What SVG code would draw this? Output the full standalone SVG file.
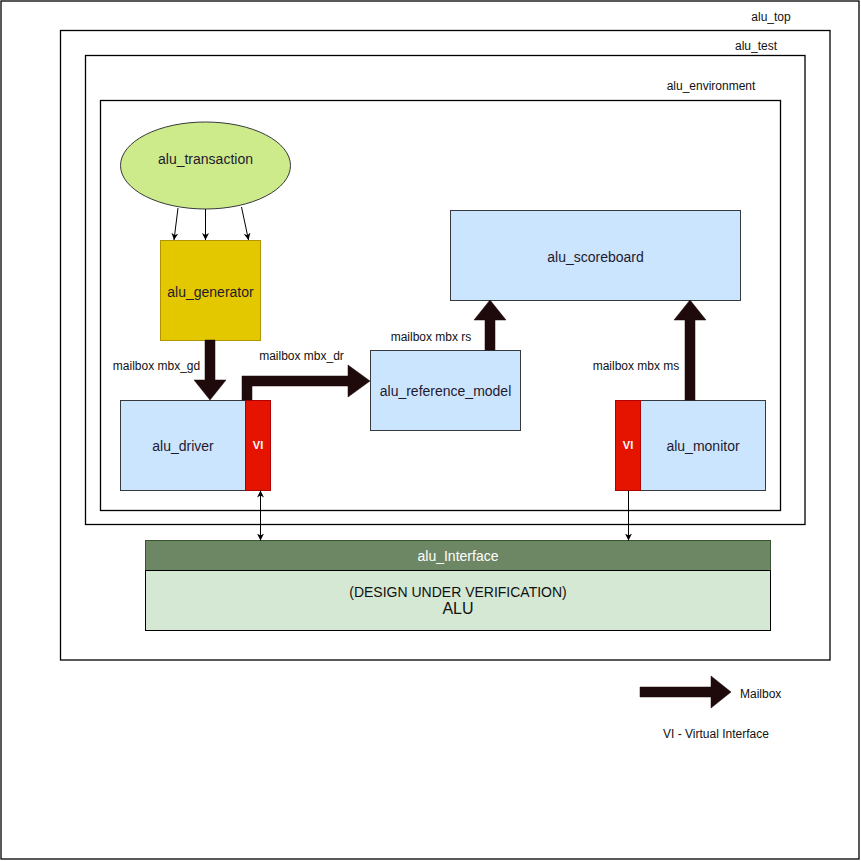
<svg xmlns="http://www.w3.org/2000/svg" width="861" height="861" viewBox="0 0 861 861">
<style>
text{font-family:"Liberation Sans",Arial,sans-serif;dominant-baseline:central;text-anchor:middle}
.box{fill:none;stroke:#000;stroke-width:1.3}
.lbl{font-size:12px;fill:#111}
.node{font-size:14px;fill:#1f1a2e}
.blue{fill:#cce5ff;stroke:#36393d;stroke-width:1}
.red{fill:#e51400;stroke:#b20000;stroke-width:1}
.vi{font-size:11px;font-weight:bold;fill:#fff}
.mb{fill:#1e0a0a;stroke:#1e0a0a;stroke-width:0.5}
.thin{fill:none;stroke:#000;stroke-width:1}
</style>
<defs>
<marker id="ah" viewBox="0 0 10 10" refX="10" refY="5" markerWidth="7" markerHeight="7" markerUnits="userSpaceOnUse" orient="auto-start-reverse">
<path d="M0,0 L10,5 L0,10 L3,5 Z" fill="#000"/>
</marker>
</defs>
<rect width="861" height="861" fill="#fff"/>
<g id="alu_top">
<rect class="box" x="1" y="1" width="858" height="858"/>
<text class="lbl" x="771" y="17">alu_top</text>
</g>
<g id="alu_test">
<rect class="box" x="60.5" y="30.5" width="769.5" height="629.5"/>
<text class="lbl" x="756" y="46">alu_test</text>
</g>
<g id="alu_environment">
<rect class="box" x="85.5" y="55.5" width="719.5" height="469"/>
<text class="lbl" x="711" y="86">alu_environment</text>
</g>
<g id="inner_env">
<rect class="box" x="100.5" y="100.5" width="680" height="410"/>
</g>
<g id="alu_transaction">
<ellipse cx="205.5" cy="165.5" rx="85" ry="43.5" fill="#cdeb8b" stroke="#36393d" stroke-width="1"/>
<text class="node" x="205.5" y="159">alu_transaction</text>
</g>
<g id="alu_generator">
<rect x="160.5" y="240.5" width="100" height="100" fill="#e3c800" stroke="#b09500" stroke-width="1"/>
<text class="node" x="210.5" y="292">alu_generator</text>
</g>
<g id="alu_driver">
<rect class="blue" x="120.5" y="400.5" width="125" height="90"/>
<text class="node" x="183" y="446">alu_driver</text>
<rect class="red" x="245.5" y="400.5" width="25" height="90"/>
<text class="vi" x="258" y="445">VI</text>
</g>
<g id="alu_reference_model">
<rect class="blue" x="370.5" y="350.5" width="150" height="80"/>
<text class="node" x="445.5" y="391">alu_reference_model</text>
</g>
<g id="alu_scoreboard">
<rect class="blue" x="450.5" y="210.5" width="290" height="90"/>
<text class="node" x="595.5" y="257">alu_scoreboard</text>
</g>
<g id="alu_monitor">
<rect class="blue" x="640.5" y="400.5" width="125" height="90"/>
<text class="node" x="703" y="446">alu_monitor</text>
<rect class="red" x="615.5" y="400.5" width="25" height="90"/>
<text class="vi" x="628" y="445">VI</text>
</g>
<g id="alu_interface">
<rect x="145.5" y="540.5" width="625" height="30" fill="#6d8764" stroke="#3a5431" stroke-width="1"/>
<text x="458" y="555.5" font-size="14" fill="#fff">alu_Interface</text>
<rect x="145.5" y="570.5" width="625" height="60" fill="#d5e8d4" stroke="#000" stroke-width="1"/>
<text x="458" y="592" font-size="14" fill="#111">(DESIGN UNDER VERIFICATION)</text>
<text x="458" y="608" font-size="16" fill="#111">ALU</text>
</g>
<g id="connectors">
<line class="thin" x1="178" y1="208" x2="174" y2="240" marker-end="url(#ah)"/>
<line class="thin" x1="205.5" y1="209" x2="205.5" y2="240" marker-end="url(#ah)"/>
<line class="thin" x1="241.5" y1="207" x2="248.5" y2="240" marker-end="url(#ah)"/>
<polygon class="mb" points="205,340 215,340 215,380 226,380 210,400 194,380 205,380"/>
<polygon class="mb" points="242,400 242,376 348,376 348,365 370,381 348,397 348,386 252,386 252,400"/>
<polygon class="mb" points="485,350 485,320 474,320 490,300 506,320 495,320 495,350"/>
<polygon class="mb" points="685,400 685,320 674,320 690,300 706,320 695,320 695,400"/>
<line class="thin" x1="260.5" y1="490.5" x2="260.5" y2="540.5" marker-start="url(#ah)" marker-end="url(#ah)"/>
<line class="thin" x1="628.5" y1="490.5" x2="628.5" y2="540.5" marker-end="url(#ah)"/>
<text class="lbl" x="156.5" y="366">mailbox mbx_gd</text>
<text class="lbl" x="301.5" y="356">mailbox mbx_dr</text>
<text class="lbl" x="431" y="337">mailbox mbx rs</text>
<text class="lbl" x="636" y="366">mailbox mbx ms</text>
</g>
<g id="legend">
<polygon class="mb" points="640,687 711,687 711,676 731,692 711,708 711,697 640,697"/>
<text class="lbl" x="740" y="694" style="text-anchor:start">Mailbox</text>
<text class="lbl" x="716" y="734">VI - Virtual Interface</text>
</g>
</svg>
